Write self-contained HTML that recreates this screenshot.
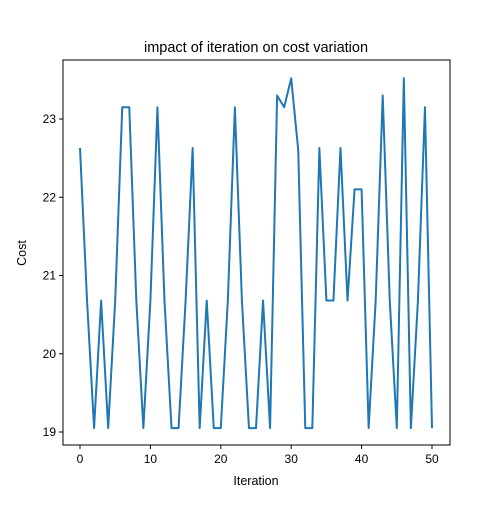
<!DOCTYPE html>
<html><head><meta charset="utf-8"><style>
body{margin:0;background:#fff;font-family:"Liberation Sans","DejaVu Sans",sans-serif}
</style></head><body>
<svg width="500" height="500" xmlns="http://www.w3.org/2000/svg">
<g id="g"></g>
</svg>
<script>
const iterations=[0,1,2,3,4,5,6,7,8,9,10,11,12,13,14,15,16,17,18,19,20,21,22,23,24,25,26,27,28,29,30,31,32,33,34,35,36,37,38,39,40,41,42,43,44,45,46,47,48,49,50];
const costs=[22.63,20.68,19.05,20.68,19.05,20.68,23.15,23.15,20.68,19.05,20.68,23.15,20.68,19.05,19.05,20.68,22.63,19.05,20.68,19.05,19.05,20.68,23.15,20.68,19.05,19.05,20.68,19.05,23.3,23.15,23.52,22.6,19.05,19.05,22.63,20.68,20.68,22.63,20.68,22.1,22.1,19.05,20.68,23.3,20.68,19.05,23.52,19.05,20.68,23.15,19.05];
const xTicks=[0,10,20,30,40,50];
const yTicks=[19,20,21,22,23];
const L=63,R=450,T=60,B=445;
const X=v=>80+v*7.04, Y=v=>432-(v-19)*78.25;
const g=document.getElementById('g');const NS='http://www.w3.org/2000/svg';
function el(t,a,txt){const e=document.createElementNS(NS,t);for(const k in a)e.setAttribute(k,a[k]);if(txt!==undefined)e.textContent=txt;g.appendChild(e);return e;}
let d='';iterations.forEach((x,i)=>{d+=(i?'L':'M')+X(x).toFixed(2)+','+Y(costs[i]).toFixed(2);});
const line=el('path',{d:d,fill:'none',stroke:'#1f77b4','stroke-width':2,'stroke-linejoin':'round'});


const frame=el('rect',{x:L,y:T,width:R-L,height:B-T,fill:'none',stroke:'#000','stroke-width':1});


xTicks.forEach(t=>{el('line',{x1:X(t),x2:X(t),y1:B,y2:B+4,stroke:'#000'});const tx=el('text',{x:X(t),y:B+18,'text-anchor':'middle','font-size':12},String(t));});
yTicks.forEach(t=>{el('line',{x1:L-4,x2:L,y1:Y(t),y2:Y(t),stroke:'#000'});const tx=el('text',{x:L-7,y:Y(t)+4,'text-anchor':'end','font-size':12},String(t));});
const ti=el('text',{x:256,y:52,'text-anchor':'middle','font-size':14.5},'impact of iteration on cost variation');


const xl=el('text',{x:256,y:485,'text-anchor':'middle','font-size':12.5},'Iteration');


const yl=el('text',{x:26,y:253,'text-anchor':'middle','font-size':12.5,transform:'rotate(-90 26 253)'},'Cost');


</script>
</body></html>
